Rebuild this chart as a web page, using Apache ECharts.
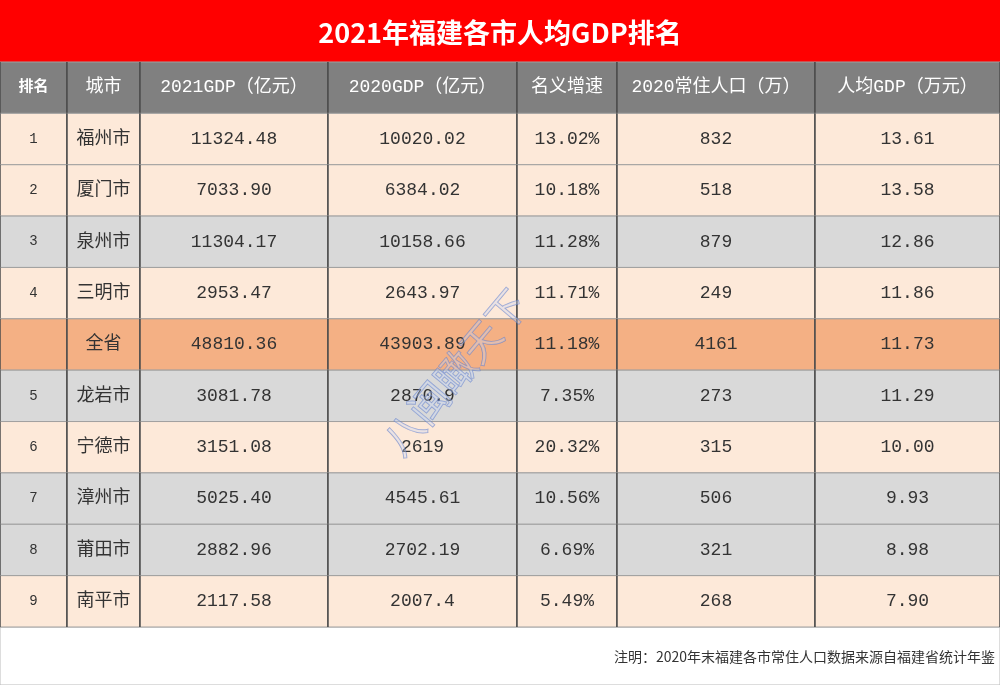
<!DOCTYPE html>
<html>
<head>
<meta charset="utf-8">
<script src="https://cdn.jsdelivr.net/npm/echarts@6/dist/echarts.min.js"></script>
<style>html,body{margin:0;padding:0;background:#fff}#main{width:1000px;height:685px}</style>
</head>
<body>
<div id="main"></div>
<script>
// 表头与数据
const headers = ['排名', '城市', '2021GDP（亿元）', '2020GDP（亿元）', '名义增速', '2020常住人口（万）', '人均GDP（万元）'];
const ranks = ['1', '2', '3', '4', '', '5', '6', '7', '8', '9'];
const cities = ['福州市', '厦门市', '泉州市', '三明市', '全省', '龙岩市', '宁德市', '漳州市', '莆田市', '南平市'];
const gdp2021 = ['11324.48', '7033.90', '11304.17', '2953.47', '48810.36', '3081.78', '3151.08', '5025.40', '2882.96', '2117.58'];
const gdp2020 = ['10020.02', '6384.02', '10158.66', '2643.97', '43903.89', '2870.9', '2619', '4545.61', '2702.19', '2007.4'];
const growth = ['13.02%', '10.18%', '11.28%', '11.71%', '11.18%', '7.35%', '20.32%', '10.56%', '6.69%', '5.49%'];
const population = ['832', '518', '879', '249', '4161', '273', '315', '506', '321', '268'];
const perCapita = ['13.61', '13.58', '12.86', '11.86', '11.73', '11.29', '10.00', '9.93', '8.98', '7.90'];

// 列边界（像素宽度）与行底色
const colEdges = [0, 67, 140, 328, 517, 617, 815, 1000];
const rowFill = ['#fde9d9', '#fde9d9', '#d9d9d9', '#fde9d9', '#f4b084', '#d9d9d9', '#fde9d9', '#d9d9d9', '#d9d9d9', '#fde9d9'];

const columns = [ranks, cities, gdp2021, gdp2020, growth, population, perCapita];
const rowNames = ['h'].concat(cities);
const cells = [];
headers.forEach((h, c) => cells.push([c, 0, h]));
for (let r = 0; r < cities.length; r++) {
    columns.forEach((col, c) => cells.push([c, r + 1, col[r]]));
}

const font = '"Liberation Mono", "Noto Sans CJK SC", monospace';

const option = {
    animation: false,
    graphic: [
        { type: 'rect', shape: { x: 0, y: 0, width: 1000, height: 62 }, style: { fill: '#ff0000' } },
        { type: 'text', x: 500, y: 33, style: { text: '2021年福建各市人均GDP排名', fill: '#fff', fontSize: 27, fontWeight: 'bold', fontFamily: '"Noto Sans CJK SC"', align: 'center', verticalAlign: 'middle' } },
        { type: 'rect', shape: { x: 0, y: 627, width: 1000, height: 58 }, style: { fill: 'none', stroke: '#bbb' } },
        { type: 'text', x: 995, y: 657, style: { text: '注明：2020年末福建各市常住人口数据来源自福建省统计年鉴', fill: '#333', fontSize: 14, fontFamily: '"Noto Sans CJK SC"', align: 'right', verticalAlign: 'middle' } },
        { type: 'text', x: 455, y: 372, rotation: Math.PI * 50 / 180, z: 100, style: { text: '八闽瞰天下', fill: 'rgba(200,215,245,0.35)', stroke: 'rgba(90,120,200,0.6)', lineWidth: 1, fontSize: 40, fontFamily: '"Noto Sans CJK SC"', align: 'center', verticalAlign: 'middle' } }
    ],
    grid: { left: 0, right: 0, top: 62, bottom: 58 },
    xAxis: { type: 'value', min: 0, max: 1000, show: false },
    yAxis: { type: 'category', data: rowNames, inverse: true, show: false },
    series: [{
        type: 'custom',
        data: cells,
        encode: { x: 0, y: 1 },
        renderItem: function (params, api) {
            const c = api.value(0), r = api.value(1);
            const text = cells[params.dataIndex][2];
            const x0 = api.coord([colEdges[c], r])[0];
            const x1 = api.coord([colEdges[c + 1], r])[0];
            const yc = api.coord([0, r])[1];
            const h = api.size([0, 1])[1];
            const y0 = yc - h / 2;
            const header = r === 0;
            return {
                type: 'group',
                children: [
                    { type: 'rect', shape: { x: x0, y: y0, width: x1 - x0, height: h },
                      style: { fill: header ? '#808080' : rowFill[r - 1], stroke: '#a0a0a0', lineWidth: 1 } },
                    { type: 'line', shape: { x1: x0, y1: y0, x2: x0, y2: y0 + h }, style: { stroke: '#222', lineWidth: 1 } },
                    { type: 'line', shape: { x1: x1, y1: y0, x2: x1, y2: y0 + h }, style: { stroke: '#222', lineWidth: 1 } },
                    { type: 'text', x: (x0 + x1) / 2, y: yc,
                      style: { text: text, align: 'center', verticalAlign: 'middle',
                               fill: header ? '#fff' : '#333', fontFamily: font,
                               fontWeight: header && c === 0 ? 'bold' : 'normal',
                               fontSize: c === 0 ? (header ? 15 : 14) : 18 } }
                ]
            };
        }
    }]
};

const chart = echarts.init(document.getElementById('main'));
chart.setOption(option);
</script>
</body>
</html>
